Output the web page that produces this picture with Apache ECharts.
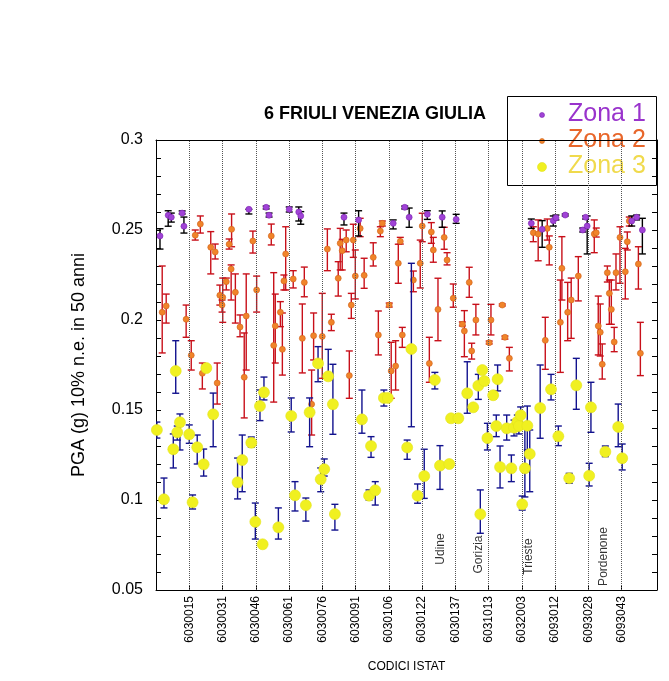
<!DOCTYPE html>
<html>
<head>
<meta charset="utf-8">
<script src="https://cdn.jsdelivr.net/npm/echarts@6/dist/echarts.min.js"></script>
<style>html,body{margin:0;padding:0;background:#fff}#c{width:669px;height:681px}</style>
</head>
<body>
<div id="c"></div>
<script>
// ---- data: [index, PGA, low, high] ----
const zone1 = [
[1.8,0.2467,0.2394,0.2507],[5.5,0.2582,0.2521,0.2607],[6.9,0.2571,0.2544,0.2594],[11.8,0.2594,0.2589,0.2606],
[12.6,0.2521,0.2483,0.2572],[41.9,0.2615,0.2589,0.2615],[49.7,0.2626,0.2617,0.2633],[51.0,0.2582,0.2572,0.2594],
[60.1,0.2615,0.2600,0.2628],[64.4,0.2600,0.2550,0.2628],[65.3,0.2578,0.2532,0.2602],[84.8,0.2571,0.2528,0.2594],
[91.4,0.2556,0.2467,0.2607],[107.0,0.2537,0.2506,0.2556],[112.2,0.2626,0.2617,0.2633],[114.2,0.2571,0.2515,0.2622],
[122.4,0.2587,0.2559,0.2607],[129.1,0.2571,0.2515,0.2606],[135.4,0.2559,0.2537,0.2587],[169.3,0.2537,0.2509,0.2561],
[174.2,0.2504,0.2404,0.2552],[179.2,0.2552,0.2522,0.2578],[180.4,0.2568,0.2556,0.2583],[184.6,0.2583,0.2578,0.2589],
[192.5,0.2500,0.2489,0.2511],[193.8,0.2571,0.2561,0.2578],[194.5,0.2522,0.2367,0.2578],[214.6,0.2550,0.2522,0.2578],
[216.8,0.2571,0.2556,0.2583],[219.4,0.2500,0.2367,0.2565]
];
const zone2 = [
[2.8,0.2043,0.1817,0.2300],[4.6,0.2078,0.1983,0.2144],[13.6,0.2004,0.1904,0.2083],[15.9,0.1804,0.1722,0.1885],
[17.7,0.2471,0.2444,0.2500],[20.0,0.2533,0.2483,0.2578],[20.9,0.1704,0.1617,0.1761],[24.7,0.2404,0.2256,0.2491],
[26.7,0.2378,0.2339,0.2422],[27.6,0.1650,0.1533,0.1761],[28.8,0.2137,0.2083,0.2194],[30.1,0.2126,0.1987,0.2233],
[29.8,0.2083,0.2044,0.2111],[31.7,0.2213,0.2167,0.2233],[33.0,0.2421,0.2394,0.2450],[34.1,0.2504,0.2407,0.2589],
[33.9,0.2283,0.2111,0.2306],[35.8,0.2154,0.1983,0.2256],[37.9,0.1961,0.1907,0.2028],[40.7,0.2022,0.1722,0.2256],
[39.8,0.1682,0.1456,0.1928],[43.7,0.2439,0.2372,0.2494],[45.4,0.2167,0.2044,0.2244],[52.0,0.2467,0.2417,0.2533],
[53.1,0.1859,0.1544,0.2263],[53.8,0.1967,0.1761,0.2144],[56.1,0.2043,0.1963,0.2102],[57.0,0.1837,0.1694,0.2039],
[57.7,0.2217,0.2167,0.2250],[58.5,0.2367,0.2167,0.2518],[61.9,0.2228,0.2178,0.2274],[66.9,0.2209,0.2129,0.2294],
[66.0,0.1898,0.1706,0.2089],[71.1,0.1913,0.1778,0.2039],[70.2,0.1532,0.1361,0.1722],[75.0,0.1909,0.1676,0.2148],
[77.3,0.2394,0.2274,0.2506],[79.1,0.1987,0.1941,0.2032],[82.2,0.2232,0.2133,0.2324],[83.1,0.2426,0.2278,0.2509],
[84.0,0.2385,0.2278,0.2448],[85.8,0.2444,0.2379,0.2500],[88.1,0.2083,0.2009,0.2148],[89.0,0.2444,0.2348,0.2532],
[89.9,0.2244,0.2117,0.2389],[87.2,0.1691,0.1565,0.1828],[92.1,0.2509,0.2463,0.2565],[93.9,0.2248,0.2176,0.2343],
[98.0,0.2348,0.2300,0.2429],[100.3,0.1917,0.1806,0.2050],[101.2,0.2494,0.2463,0.2518],[102.1,0.2537,0.2522,0.2550],
[105.2,0.2083,0.2072,0.2094],[106.1,0.1717,0.1565,0.1876],[108.1,0.1744,0.1611,0.1885],[109.3,0.2315,0.2204,0.2421],
[110.2,0.2437,0.2422,0.2459],[111.1,0.1917,0.1848,0.1959],[116.1,0.2222,0.2157,0.2272],[119.2,0.2315,0.2178,0.2444],
[120.1,0.2522,0.2435,0.2593],[123.3,0.1759,0.1654,0.1904],[124.2,0.2489,0.2426,0.2541],[125.1,0.2389,0.2321,0.2459],
[127.2,0.2059,0.1885,0.2232],[130.0,0.2459,0.2393,0.2515],[131.3,0.2333,0.2306,0.2374],[134.1,0.2121,0.2071,0.2200],
[138.2,0.1976,0.1967,0.1989],[139.1,0.1939,0.1796,0.2052],[141.3,0.2209,0.2126,0.2293],[142.4,0.1828,0.1783,0.1871],
[144.3,0.2000,0.1917,0.2087],[150.3,0.1874,0.1867,0.1883],[151.1,0.2000,0.1917,0.2087],[156.2,0.2083,0.2078,0.2089],
[157.4,0.1904,0.1894,0.1911],[159.4,0.1787,0.1717,0.1848],[170.2,0.2485,0.2435,0.2518],[172.4,0.2478,0.2329,0.2556],
[175.6,0.1887,0.1726,0.2015],[176.5,0.2509,0.2444,0.2561],[177.4,0.2404,0.2306,0.2467],[182.4,0.1987,0.1709,0.2222],
[183.1,0.2287,0.2111,0.2463],[185.7,0.2043,0.1885,0.2209],[187.3,0.2111,0.1898,0.2233],[190.5,0.2244,0.2106,0.2352],
[197.7,0.2478,0.2374,0.2556],[198.6,0.2485,0.2461,0.2511],[199.5,0.1967,0.1806,0.2133],[200.4,0.1932,0.1800,0.2089],
[201.3,0.1754,0.1672,0.1867],[203.6,0.2263,0.2211,0.2300],[204.5,0.2148,0.1976,0.2222],[205.4,0.2059,0.1976,0.2222],
[206.7,0.1878,0.1824,0.1959],[207.5,0.2263,0.2167,0.2367],[209.3,0.2459,0.2204,0.2518],[211.7,0.2268,0.2117,0.2398],
[212.6,0.2435,0.2389,0.2489],[213.5,0.2550,0.2522,0.2572],[217.6,0.2311,0.2172,0.2407],[218.5,0.1815,0.1691,0.1987]
];
const zone3 = [
[0.4,0.1389,0.1344,0.1433],[3.6,0.1004,0.0956,0.1122],[7.8,0.1282,0.1178,0.1367],[8.9,0.1717,0.1593,0.1885],
[9.6,0.1376,0.1333,0.1411],[10.8,0.1432,0.1278,0.1478],[15.0,0.1365,0.1315,0.1417],[16.5,0.0987,0.0950,0.1028],
[18.6,0.1293,0.1200,0.1361],[21.5,0.1198,0.1133,0.1283],[22.7,0.1733,0.1722,0.1744],[25.8,0.1476,0.1296,0.1594],
[36.8,0.1098,0.1006,0.1233],[38.9,0.1222,0.1046,0.1361],[43.0,0.1318,0.1294,0.1350],[44.8,0.0879,0.0783,0.0983],
[46.9,0.1522,0.1441,0.1611],[48.7,0.1598,0.1556,0.1683],[48.1,0.0754,0.0744,0.0761],[55.2,0.0848,0.0783,0.0956],
[61.0,0.1467,0.1378,0.1567],[62.7,0.1026,0.0939,0.1102],[67.6,0.0971,0.0883,0.1011],[69.3,0.1487,0.1296,0.1567],
[73.1,0.1759,0.1657,0.1852],[74.3,0.1115,0.1046,0.1178],[75.9,0.1171,0.1133,0.1228],[77.7,0.1687,0.1676,0.1837],
[79.8,0.1532,0.1365,0.1754],[80.7,0.0922,0.0833,0.0976],[92.9,0.1448,0.1371,0.1611],[97.0,0.1300,0.1237,0.1352],
[96.1,0.1024,0.1000,0.1056],[98.9,0.1054,0.0972,0.1102],[102.8,0.1567,0.1522,0.1611],[104.6,0.1567,0.1556,0.1578],
[113.3,0.1292,0.1226,0.1333],[115.2,0.1839,0.1407,0.2315],[118.0,0.1024,0.0982,0.1089],[121.0,0.1133,0.1009,0.1282],
[125.8,0.1667,0.1617,0.1709],[128.1,0.1191,0.1059,0.1302],[132.3,0.1200,0.1189,0.1211],[133.1,0.1454,0.1444,0.1461],
[136.4,0.1454,0.1444,0.1461],[140.4,0.1593,0.1482,0.1768],[143.1,0.1515,0.1500,0.1528],[145.4,0.1635,0.1559,0.1698],
[146.3,0.0921,0.0815,0.1056],[147.2,0.1722,0.1711,0.1733],[148.1,0.1661,0.1650,0.1672],[149.5,0.1344,0.1278,0.1426],
[152.1,0.1582,0.1572,0.1594],[153.5,0.1411,0.1352,0.1472],[154.1,0.1671,0.1606,0.1750],[155.2,0.1183,0.1067,0.1300],
[158.2,0.1398,0.1333,0.1472],[160.3,0.1176,0.1102,0.1250],[161.5,0.1402,0.1356,0.1444],[163.0,0.1435,0.1400,0.1472],
[163.7,0.1411,0.1367,0.1456],[164.5,0.1471,0.1428,0.1517],[165.2,0.0976,0.0944,0.1022],[166.4,0.1176,0.1017,0.1406],
[167.5,0.1413,0.1278,0.1522],[168.6,0.1256,0.1046,0.1389],[173.3,0.1511,0.1343,0.1750],[178.2,0.1615,0.1556,0.1698],
[181.5,0.1354,0.1302,0.1411],[186.4,0.1121,0.1093,0.1148],[189.6,0.1637,0.1504,0.1787],[195.4,0.1135,0.1078,0.1204],
[196.2,0.1515,0.1376,0.1654],[202.7,0.1268,0.1241,0.1300],[208.5,0.1406,0.1296,0.1533],[210.3,0.1232,0.1167,0.1311]
];
const seriesNames = ['Zona 1', 'Zona 2', 'Zona 3'];
const xTickValues = [15,30,45,60,75,90,105,120,135,150,165,180,195,210];
const xTickLabels = ['6030015','6030031','6030046','6030061','6030076','6030091','6030106','6030122','6030137','6031013','6032003','6093012','6093028','6093043'];
const yTickLabels = ['0.05','0.1','0.15','0.2','0.25','0.3'];
const provNames = ['Udine','Gorizia','Trieste','Pordenone'];
const provX = [128.4, 145.4, 167.9, 202.1];
const provY = [0.0728, 0.0697, 0.0686, 0.0686];

const FONT = '"Liberation Sans", Arial, sans-serif';
const chart = echarts.init(document.getElementById('c'), null, {renderer: 'canvas'});

function errBars(color) {
  return function (params, api) {
    const x = api.value(0), lo = api.value(2), hi = api.value(3);
    const a = api.coord([x, lo]), b = api.coord([x, hi]);
    const w = 3.5;
    const st = {stroke: color, lineWidth: 1.4};
    return {type: 'group', children: [
      {type: 'line', shape: {x1: a[0], y1: a[1], x2: b[0], y2: b[1]}, style: st},
      {type: 'line', shape: {x1: a[0]-w, y1: a[1], x2: a[0]+w, y2: a[1]}, style: st},
      {type: 'line', shape: {x1: b[0]-w, y1: b[1], x2: b[0]+w, y2: b[1]}, style: st}
    ]};
  };
}

const zones = [zone1, zone2, zone3];
const barColors = ['#000000', '#c8101a', '#12128e'];
const fillColors = ['#a043d6', '#f0842a', '#f0f020'];
const edgeColors = ['#7a22b0', '#d0601a', '#e2e21c'];
const sizes = [6, 6, 11];
const legendText = ['#9933cc', '#e8662a', '#f0da4c'];

const series = [];
// dotted vertical grid lines at the tick positions
series.push({
  type: 'scatter', data: [], silent: true, z: 1,
  markLine: {
    silent: true, symbol: ['none', 'none'], label: {show: false}, animation: false,
    lineStyle: {type: 'dotted', color: '#555', width: 1},
    data: xTickValues.map(v => ({xAxis: v}))
  }
});
const order = [1, 2, 0];
order.forEach((zi, k) => {
  series.push({
    type: 'custom', name: seriesNames[zi] + ' err', data: zones[zi], renderItem: errBars(barColors[zi]),
    encode: {x: 0, y: [2, 3]}, z: 2 + k * 2, silent: true, clip: true
  });
  series.push({
    type: 'scatter', name: seriesNames[zi], data: zones[zi].map(d => [d[0], d[1]]),
    symbol: 'circle', symbolSize: sizes[zi], z: 3 + k * 2,
    itemStyle: {color: fillColors[zi], borderColor: edgeColors[zi], borderWidth: 0.6, opacity: 1}
  });
});
series.push({
  type: 'scatter', name: 'province', data: provNames.map((n, i) => [provX[i], provY[i], n]),
  symbolSize: 0, silent: true, z: 20,
  label: {show: true, position: 'inside', rotate: 90, formatter: p => p.data[2],
    fontSize: 12, fontFamily: FONT, color: '#000'}
});

const legendChildren = [
  {type: 'rect', shape: {x: 507.5, y: 96.5, width: 149, height: 89}, style: {fill: '#fff', stroke: '#000', lineWidth: 1}}
];
const legRows = [114.5, 140.5, 166.5];
seriesNames.forEach((n, i) => {
  legendChildren.push({type: 'circle', shape: {cx: 542, cy: legRows[i] + 0.5, r: i === 2 ? 4.5 : 2.5},
    style: {fill: fillColors[i], stroke: edgeColors[i], lineWidth: 0.6}});
  legendChildren.push({type: 'text', x: 568, y: legRows[i],
    style: {text: n, fill: legendText[i], font: '25px ' + FONT, align: 'left', verticalAlign: 'middle'}});
});

chart.setOption({
  animation: false,
  backgroundColor: '#fff',
  title: {text: '6 FRIULI VENEZIA GIULIA', left: 370, top: 100, textAlign: 'center',
    textStyle: {fontSize: 18, fontWeight: 'bold', fontFamily: FONT, color: '#000'}},
  grid: {left: 156, top: 140, width: 501, height: 450, containLabel: false},
  xAxis: [{
    type: 'value', min: 0, max: 226, position: 'bottom',
    name: 'CODICI ISTAT', nameLocation: 'middle', nameGap: 71,
    nameTextStyle: {fontSize: 12, fontFamily: FONT, color: '#000'},
    axisLine: {show: true, onZero: false, lineStyle: {color: '#000', width: 1}},
    axisTick: {show: true, inside: true, length: 5, customValues: xTickValues, lineStyle: {color: '#000'}},
    axisLabel: {show: true, customValues: xTickValues, rotate: 90, margin: 6, fontSize: 12, fontFamily: FONT, color: '#000',
      formatter: v => { const i = xTickValues.indexOf(Math.round(v)); return i >= 0 ? xTickLabels[i] : ''; }},
    splitLine: {show: false}
  }, {
    type: 'value', min: 0, max: 226, position: 'top',
    axisLine: {show: true, onZero: false, lineStyle: {color: '#000', width: 1}},
    axisTick: {show: false}, axisLabel: {show: false}, splitLine: {show: false}
  }],
  yAxis: [{
    type: 'value', min: 0.05, max: 0.3, interval: 0.05, position: 'left',
    axisLine: {show: true, onZero: false, lineStyle: {color: '#000', width: 1}},
    axisTick: {show: true, inside: true, length: 5, lineStyle: {color: '#000'}},
    minorTick: {show: true, splitNumber: 5, length: 5, lineStyle: {color: '#000'}},
    axisLabel: {show: true, margin: 13, fontSize: 16, fontFamily: FONT, color: '#000',
      formatter: v => yTickLabels[Math.round(v / 0.05) - 1]},
    splitLine: {show: false}, minorSplitLine: {show: false}
  }, {
    type: 'value', min: 0.05, max: 0.3, interval: 0.05, position: 'right',
    axisLine: {show: true, onZero: false, lineStyle: {color: '#000', width: 1}},
    axisTick: {show: true, inside: true, length: 5, lineStyle: {color: '#000'}},
    minorTick: {show: true, splitNumber: 5, length: 5, lineStyle: {color: '#000'}},
    axisLabel: {show: false}, splitLine: {show: false}, minorSplitLine: {show: false}
  }],
  graphic: [
    {type: 'text', x: 79, y: 365, rotation: Math.PI / 2, z: 50,
      style: {text: 'PGA (g) 10% n.e. in 50 anni', font: '18px ' + FONT, fill: '#000', align: 'center', verticalAlign: 'middle'}},
    {type: 'group', z: 100, children: legendChildren}
  ],
  series: series
});
</script>
</body>
</html>
